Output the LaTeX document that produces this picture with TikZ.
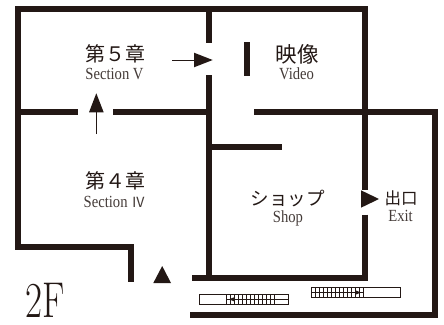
\documentclass[tikz,border=0pt]{standalone}
\usepackage{fontspec}
\setmainfont[FakeStretch=0.86]{Liberation Serif}
\newfontfamily\cjk{Noto Sans CJK JP}
\newfontfamily\twof{Latin Modern Roman}
\definecolor{ink}{HTML}{231815}
\tikzset{
  wall/.style={draw=ink,line width=6pt,line cap=butt,line join=miter},
  thin/.style={draw=ink,line width=1pt},
  tri/.style={fill=ink,draw=none},
  stair/.style={draw=ink,line width=0.8pt},
  jp/.style={text=ink,inner sep=0pt,font=\cjk\fontsize{20}{20}\selectfont},
  en/.style={text=ink!85!white,inner sep=0pt,font=\fontsize{17}{17}\selectfont}
}
\begin{document}
\begin{tikzpicture}[x=1pt,y=-1pt]
\useasboundingbox (0,0) rectangle (444,324);
% walls
\draw[wall] (209,42.7) -- (209,9) -- (17.5,9) -- (17.5,246.5) -- (131,246.5) -- (131,282);
\draw[wall] (209,9) -- (364.8,9) -- (364.8,190);
\draw[wall] (364.8,214.7) -- (364.8,277.7) -- (191.5,277.7);
\draw[wall] (209,75) -- (209,277.7);
\draw[wall] (17.5,111.5) -- (77.7,111.5);
\draw[wall] (113.3,111.5) -- (209,111.5);
\draw[wall] (254.3,111.5) -- (435,111.5) -- (435,314.5) -- (190,314.5);
\draw[wall] (209,147) -- (282,147);
\draw[wall] (246.5,42.3) -- (246.5,75.7);
% arrows
\draw[thin] (172,60) -- (196,60);
\fill[tri] (194,52.7) -- (212.7,60) -- (194,67.3) -- cycle;
\draw[thin] (96.3,134) -- (96.3,110);
\fill[tri] (96.3,93.3) -- (103.7,112.3) -- (89,112.3) -- cycle;
\fill[tri] (162.2,266) -- (171,283) -- (153.3,283) -- cycle;
\fill[tri] (361,190.3) -- (379,199) -- (361,207.7) -- cycle;
% stairs left
\draw[stair] (199.7,294.3) rectangle (288.7,304.3);
\draw[stair] (226.7,299.3) -- (288.7,299.3);
\foreach \i in {0,...,12} \draw[stair] ({226.7+4*\i},294.3) -- ({226.7+4*\i},304.3);
\fill[tri] (229,299.3) -- (234,297.3) -- (234,301.3) -- cycle;
% stairs right
\draw[stair] (311,287.3) rectangle (400,297.7);
\draw[stair] (311,292.5) -- (363.3,292.5);
\foreach \i in {0,...,13} \draw[stair] ({311+4*\i},287.3) -- ({311+4*\i},297.7);
\fill[tri] (361,292.5) -- (356,290.5) -- (356,294.5) -- cycle;
% labels
\node[jp] (s5) at (115,53.5) {第５章};
\node[en] (s5e) at (114.5,74) {Section V};
\node[jp,font=\cjk\fontsize{21.5}{21.5}\selectfont] (vid) at (297,54) {映像};
\node[en] (vide) at (296.5,74) {Video};
\node[jp] (s4) at (115,181) {第４章};
\node[en] (s4e) at (114.5,202) {Section {\cjk\fontsize{14}{14}\selectfont Ⅳ}};
\node[jp,font=\cjk\fontsize{18.5}{18.5}\selectfont] (shop) at (287.5,199) {ショップ};
\node[en] (shope) at (288,218.5) {Shop};
\node[jp,font=\cjk\fontsize{16.5}{16.5}\selectfont] (ex) at (401,198) {出口};
\node[en] (exe) at (400.5,216) {Exit};
\node[text=ink,inner sep=0pt] (fl) at (45.5,300.5) {\twof\fontsize{37}{37}\selectfont\scalebox{1.0}[1.36]{2F}};
\end{tikzpicture}
\end{document}
